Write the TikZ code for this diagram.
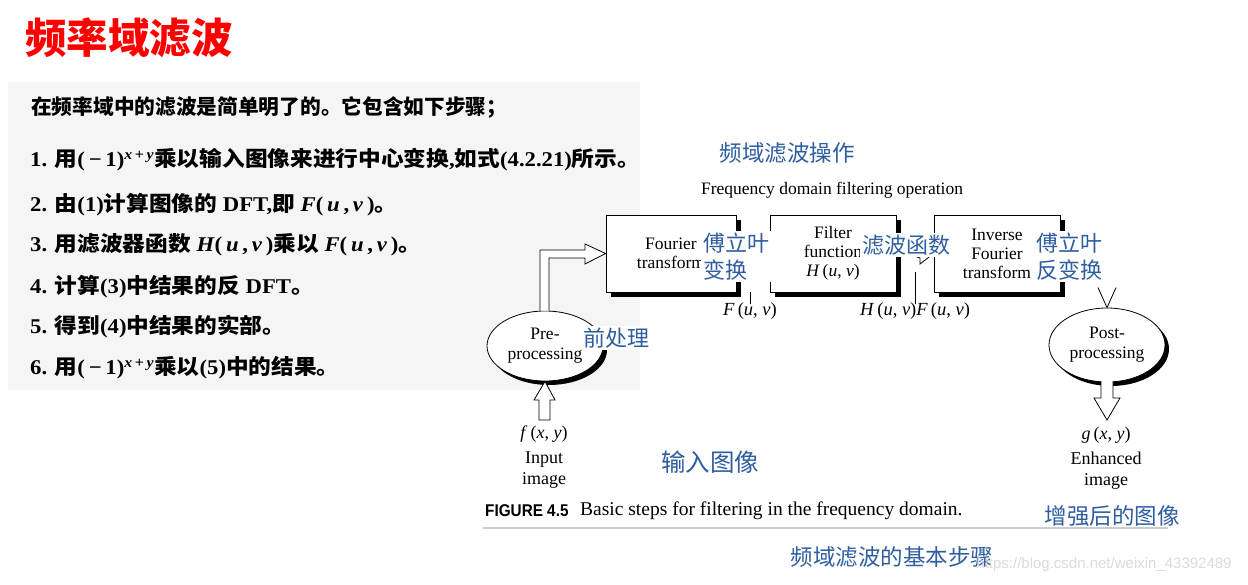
\documentclass[tikz,border=0pt]{standalone}
\usepackage{fontspec}
\setmainfont{Liberation Serif}
\newfontfamily\cjk{Noto Sans CJK SC}
\newfontfamily\capsans{Liberation Sans}
\usetikzlibrary{shapes.geometric,shadows}
\definecolor{lblue}{RGB}{46,94,160}
\definecolor{tred}{RGB}{255,0,0}
\definecolor{panel}{RGB}{245,245,245}
\newcommand{\wl}[1]{\scalebox{1.08}[1]{#1}}
\begin{document}
\begin{tikzpicture}[x=1pt,y=-1pt,
  lefttext/.style={anchor=west,inner sep=0pt,font=\fontsize{21}{24}\selectfont\bfseries},
  bluelab/.style={text=lblue,fill=white,inner sep=2pt,font=\cjk\fontsize{22}{27}\selectfont,align=left},
  stepbox/.style={draw,line width=0.8pt,fill=white,minimum width=130pt,minimum height=77pt,
     align=center,font=\fontsize{17.5}{19}\selectfont,
     drop shadow={shadow xshift=5pt,shadow yshift=-5pt,fill=black,opacity=1}},
  procell/.style={ellipse,draw,line width=0.8pt,fill=white,minimum width=116pt,minimum height=70pt,
     align=center,font=\fontsize{17.5}{20}\selectfont,inner sep=0pt,
     drop shadow={shadow xshift=4pt,shadow yshift=-4pt,fill=black,opacity=1}},
  difftext/.style={font=\fontsize{18}{21}\selectfont,inner sep=0pt,align=center},
  hollow/.style={draw,line width=0.8pt,fill=white,line join=miter}
]
\useasboundingbox (0,0) rectangle (1248,585);
\fill[white] (0,0) rectangle (1248,585);

% title
\node[anchor=west,inner sep=0pt,text=tred,font=\cjk\fontsize{41.5}{44}\selectfont\bfseries] (title) at (25,38) {频率域滤波};

% left panel
\fill[panel] (8,82) rectangle (640,390);
\node[lefttext,font=\fontsize{20.7}{24}\selectfont\bfseries] (l0) at (31,107) {{\cjk 在频率域中的滤波是简单明了的。它包含如下步骤；}};
\node[lefttext] (l1) at (30,160) {\wl{1. {\cjk 用}(\,−\,1)\textsuperscript{\textit{x}\,+\,\textit{y}}{\cjk 乘以输入图像来进行中心变换},{\cjk 如式}(4.2.21){\cjk 所示。}}};
\node[lefttext] (l2) at (30,205) {\wl{2. {\cjk 由}(1){\cjk 计算图像的} DFT,{\cjk 即} \textit{F}(\,\textit{u}\,,\,\textit{v}\,){\cjk 。}}};
\node[lefttext] (l3) at (30,245) {\wl{3. {\cjk 用滤波器函数} \textit{H}(\,\textit{u}\,,\,\textit{v}\,){\cjk 乘以} \textit{F}(\,\textit{u}\,,\,\textit{v}\,){\cjk 。}}};
\node[lefttext] (l4) at (30,287) {\wl{4. {\cjk 计算}(3){\cjk 中结果的反} DFT{\cjk 。}}};
\node[lefttext] (l5) at (30,327) {\wl{5. {\cjk 得到}(4){\cjk 中结果的实部。}}};
\node[lefttext] (l6) at (30,368) {\wl{6. {\cjk 用}(\,−\,1)\textsuperscript{\textit{x}\,+\,\textit{y}}{\cjk 乘以}(5){\cjk 中的结果。}}};

% diagram headings
\node[text=lblue,font=\cjk\fontsize{22.5}{26}\selectfont] (hdcn) at (787,153) {频域滤波操作};
\node[difftext,font=\fontsize{17.5}{20}\selectfont] (hden) at (832,190) {Frequency domain filtering operation};

% boxes
\node[stepbox] (ft) at (671,253.5) {Fourier\\transform};
\node[stepbox,minimum width=126pt] (hf) at (833,253.5) {Filter\\function\\\textit{H}\,(\textit{u}, \textit{v})};
\node[stepbox,minimum width=126pt] (ift) at (997,253.5) {Inverse\\Fourier\\transform};

% ellipses
\node[procell] (pre) at (545,346) {Pre-\\processing};
\node[procell,minimum height=74pt] (post) at (1107,345) {Post-\\processing};

% pre -> fourier hollow arrow
\path[hollow] ([xshift=-5pt]pre.north) -- ([xshift=-5pt]pre.north |- 0,250) -- (585,250) -- (585,244)
   -- (ft.west) -- (585,264) -- (585,258) -- ([xshift=4pt]pre.north |- 0,258) -- ([xshift=4pt]pre.north);

% input hollow arrow
\coordinate (inbot) at (544.5,420);
\path[hollow] (inbot) ++(-5.5,0) -- ++(0,-20) -- ++(-5,0) -- (pre.south) -- (555,400) -- (550,400) -- (550,420) -- cycle;

% output hollow arrow
\path[hollow] (1101,381) -- (1101,398) -- (1094,398) -- (1107,420) -- (1120,398) -- (1113,398) -- (1113,381);

% hidden connector between boxes (fragment visible)
\path[hollow] (hf.east) ++(0,-3) -- (920,250) -- (920,244) -- (ift.west) -- (920,264) -- (920,258) -- ([yshift=4pt]hf.east);

% arrowhead into post-processing
\draw[line width=0.8pt] ([shift={(-9,-20)}]post.north) -- (post.north) -- ([shift={(9,-20)}]post.north);

% spectrum labels
\node[difftext,font=\fontsize{18.5}{21}\selectfont] (fuv) at (750,311) {\textit{F}\,(\textit{u}, \textit{v})};
\node[difftext,font=\fontsize{18.5}{21}\selectfont] (hfuv) at (915,311) {\textit{H}\,(\textit{u}, \textit{v})\textit{F}\,(\textit{u}, \textit{v})};
\draw[line width=0.8pt] ([yshift=-2pt]fuv.north) -- ++(0,-12);
\draw[line width=0.8pt] ([yshift=-2pt]hfuv.north) -- ++(0,-32);

% input / output labels
\node[difftext] (fxy) at (544,434) {\textit{f}\,(\textit{x}, \textit{y})};
\node[difftext] (inl) at (544,470) {Input\\image};
\node[difftext] (gxy) at (1106,435) {\textit{g}\,(\textit{x}, \textit{y})};
\node[difftext] (outl) at (1106,471) {Enhanced\\image};

% caption
\node[anchor=west,inner sep=0pt,font=\capsans\bfseries\fontsize{17}{19}\selectfont] (figlab) at (485,511) {\scalebox{0.9}[1]{FIGURE 4.5}};
\node[anchor=west,inner sep=0pt,font=\fontsize{19.5}{22}\selectfont] (figcap) at (580,511) {Basic steps for filtering in the frequency domain.};
\draw[gray!40,line width=1.5pt] (483,528) -- (1168,528);

% blue overlay labels
\node[bluelab,anchor=west] (bft) at (701,256.5) {傅立叶\\变换};
\node[bluelab] (bhf) at (906,245) {滤波函数};
\node[bluelab,anchor=west] (bift) at (1034,256.5) {傅立叶\\反变换};
\node[bluelab] (bpre) at (616,338) {前处理};
\node[text=lblue,font=\cjk\fontsize{24.5}{28}\selectfont] (bin) at (710,462) {输入图像};
\node[text=lblue,font=\cjk\fontsize{22.5}{26}\selectfont] (bout) at (1112,516) {增强后的图像};
\node[text=lblue,font=\cjk\fontsize{22.5}{26}\selectfont] (bcap) at (892,557) {频域滤波的基本步骤};

% watermark
\node[text=gray!35,font=\capsans\fontsize{15}{18}\selectfont,opacity=0.8] (wm) at (1104,565) {https://blog.csdn.net/weixin\_43392489};
\end{tikzpicture}
\end{document}
